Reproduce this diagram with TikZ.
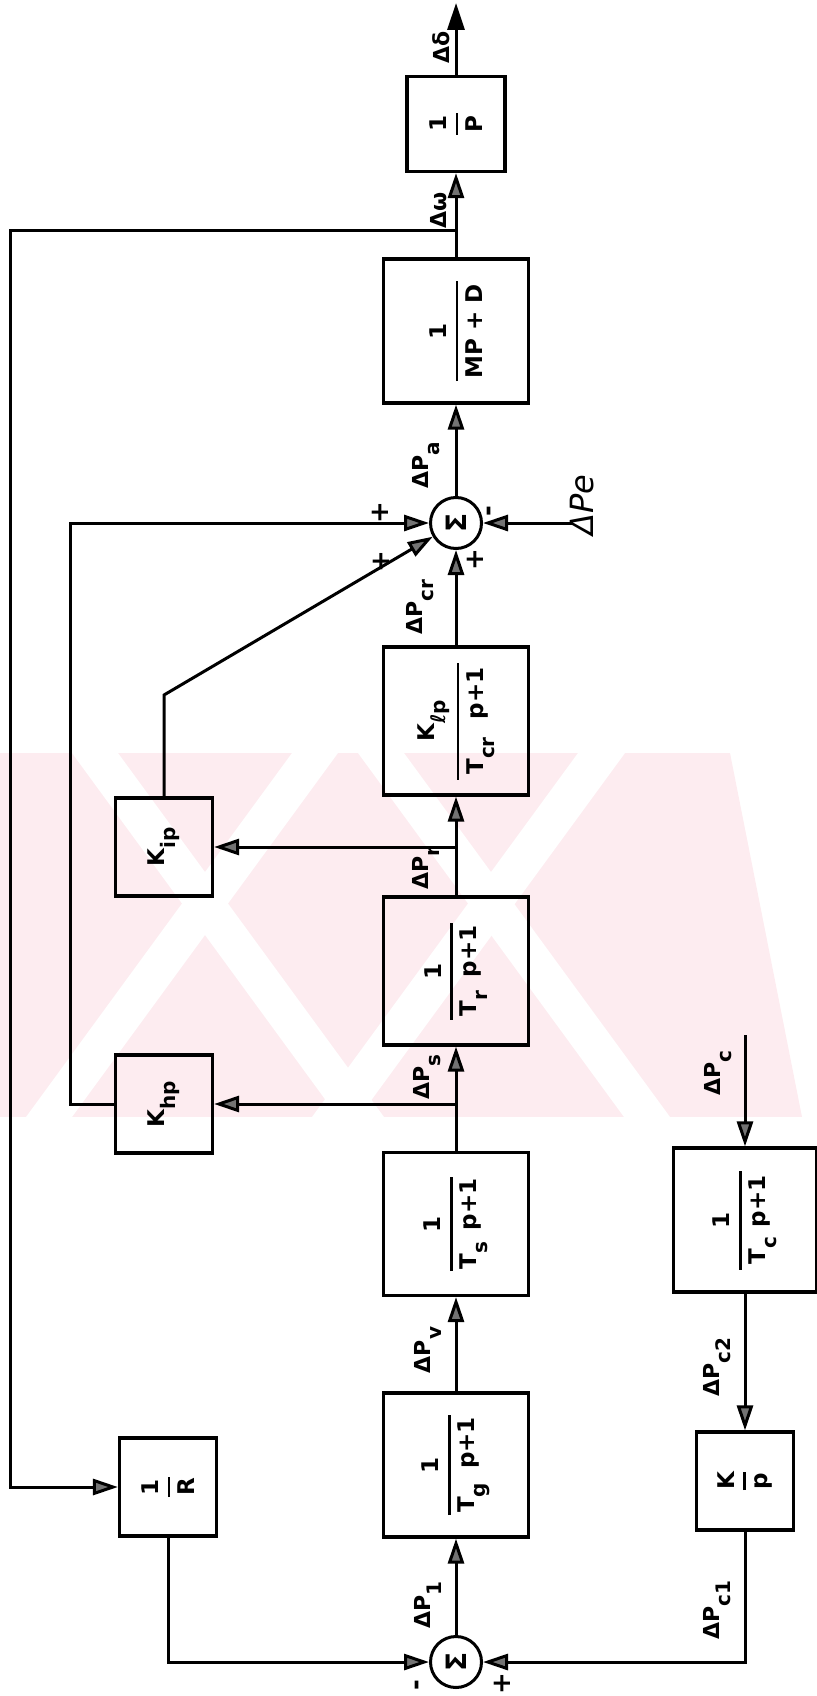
\documentclass[tikz,border=0pt]{standalone}
\usepackage{fontspec}
\setmainfont{DejaVu Sans}
\usepackage{amsmath}
\usepackage{graphicx}
\usetikzlibrary{arrows.meta}
\definecolor{wmark}{RGB}{253,236,240}

% lowered index as in the lettering
\newcommand{\lo}[1]{\raisebox{-11pt}{\fontsize{20}{20}\selectfont #1}}
% fraction set on its side: bar length, numerator, denominator
\newcommand{\tf}[3]{\rotatebox{90}{$\genfrac{}{}{2.4pt}{0}{\hbox to #1{\hss#2\hss}}{\hbox{#3}}$}}
\newcommand{\up}[1]{\rotatebox{90}{#1}}

\begin{document}
\begin{tikzpicture}[
    x=1pt, y=-1pt,
    font=\fontsize{23}{27}\selectfont\bfseries,
    >={Triangle[length=25pt, width=16pt, fill=black!55]},
    box/.style={draw, line width=3.2pt, inner sep=0pt,
                minimum width=145pt, minimum height=144pt},
    gain/.style={box, minimum width=97pt, minimum height=98pt},
    sumnode/.style={draw, circle, line width=3pt, inner sep=0pt,
                    minimum size=51pt, font=\fontsize{28}{28}\selectfont\bfseries},
    lbl/.style={rotate=90, inner sep=0pt, font=\fontsize{22}{26}\selectfont\bfseries},
    sign/.style={rotate=90, inner sep=0pt, font=\fontsize{26}{28}\selectfont\bfseries},
    wire/.style={line width=3pt},
    feed/.style={wire, ->},
  ]
  \useasboundingbox (0,0) rectangle (816,1696);

  % faint watermark of the scan
  \begin{scope}
    \clip (0,753) -- (730,753) -- (802,1117) -- (0,1117) -- cycle;
    \fill[wmark] (0,753) rectangle (816,1117);
    \fill[white] (292,753) -- (338,753) -- (72,1117) -- (26,1117) -- cycle;
    \fill[white] (578,753) -- (625,753) -- (359,1117) -- (312,1117) -- cycle;
    \fill[white] (72,753) -- (118,753) -- (384,1117) -- (338,1117) -- cycle;
    \fill[white] (358,753) -- (404,753) -- (670,1117) -- (624,1117) -- cycle;
  \end{scope}

  % blocks
  \node[box, minimum width=98pt, minimum height=95pt] (pinv) at (456,124) {\tf{22pt}{1}{P}};
  \node[box] (swing) at (456,331) {\tf{100pt}{1}{MP + D}};
  \node[sumnode] (sa) at (456,523) {\up{Σ}};
  \node[box, minimum height=148pt] (crh) at (456,721)
    {\tf{117pt}{K\lo{ℓp}}{T\lo{cr}\hspace{18pt}p+1}};
  \node[gain] (kip) at (164,847) {\up{K\lo{ip}}};
  \node[box, minimum height=148pt] (rt) at (456,971)
    {\tf{97pt}{1}{T\lo{r}\hspace{14pt}p+1}};
  \node[gain] (khp) at (164,1104) {\up{K\lo{hp}}};
  \node[box, minimum height=143pt] (st) at (456,1224)
    {\tf{94pt}{1}{T\lo{s}\hspace{12pt}p+1}};
  \node[box, minimum width=143pt] (ct) at (745,1220)
    {\tf{99pt}{1}{T\lo{c}\hspace{10pt}p+1}};
  \node[box] (gv) at (456,1465)
    {\tf{100pt}{1}{T\lo{g}\hspace{14pt}p+1}};
  \node[gain] (rinv) at (168,1487) {\tf{20pt}{1}{R}};
  \node[gain] (kint) at (745,1481) {\tf{18pt}{K}{p}};
  \node[sumnode] (sb) at (456,1662) {\up{Σ}};

  % free ends and corners
  \coordinate (dd) at (456,3);
  \coordinate (fb) at (456,231);
  \coordinate (fbl) at (10,231);
  \coordinate (br) at (456,847);
  \coordinate (bs) at (456,1104);
  \coordinate (kb) at (164,695);
  \coordinate (hl) at (70,1104);
  \coordinate (pe) at (572,523);
  \coordinate (pc) at (745,1035);

  % forward path
  \draw[wire, ->, >={Triangle[length=27pt, width=17pt]}] (pinv) -- (dd);
  \draw[feed] (swing) -- (pinv);
  \draw[feed] (sa) -- (swing);
  \draw[feed] (crh) -- (sa);
  \draw[feed] (rt) -- (crh);
  \draw[feed] (st) -- (rt);
  \draw[feed] (gv) -- (st);
  \draw[feed] (sb) -- (gv);

  % turbine stages
  \draw[feed] (br) -- (kip);
  \draw[feed] (bs) -- (khp);
  \draw[feed] (kip) -- (kb) -- (sa);
  \draw[feed] (khp) -- (hl) |- (sa);
  \draw[feed] (pe) -- (sa);

  % speed droop and supplementary control
  \draw[feed] (fb) -- (fbl) |- (rinv);
  \draw[feed] (rinv) |- (sb);
  \draw[feed] (pc) -- (ct);
  \draw[feed] (ct) -- (kint);
  \draw[feed] (kint) |- (sb);

  % signal names
  \node[lbl] (ldelta) at (441,47) {Δδ};
  \node[lbl] (lomega) at (439,210) {Δω};
  \node[lbl] (lpa) at (426,465) {ΔP\lo{a}};
  \node[lbl] (lpcr) at (420,607) {ΔP\lo{cr}};
  \node[lbl] (lpr) at (426,868) {ΔP\lo{r}};
  \node[lbl] (lps) at (427,1077) {ΔP\lo{s}};
  \node[lbl] (lpv) at (428,1350) {ΔP\lo{v}};
  \node[lbl] (lp1) at (428,1605) {ΔP\lo{1}};
  \node[lbl] (lpc) at (718,1073) {ΔP\lo{c}};
  \node[lbl] (lpc2) at (717,1367) {ΔP\lo{c2}};
  \node[lbl] (lpc1) at (717,1610) {ΔP\lo{c1}};
  \node[lbl, font=\fontsize{32}{34}\selectfont\itshape] (lpe) at (582,505) {ΔPe};

  % signs at the summing points
  \node[sign] (sg1) at (380,513) {+};
  \node[sign] (sg2) at (381,562) {+};
  \node[sign] (sg3) at (475,560) {+};
  \node[sign] (sg4) at (492,511) {-};
  \node[sign] (sg5) at (420,1685) {-};
  \node[sign] (sg6) at (502,1684) {+};
\end{tikzpicture}
\end{document}
